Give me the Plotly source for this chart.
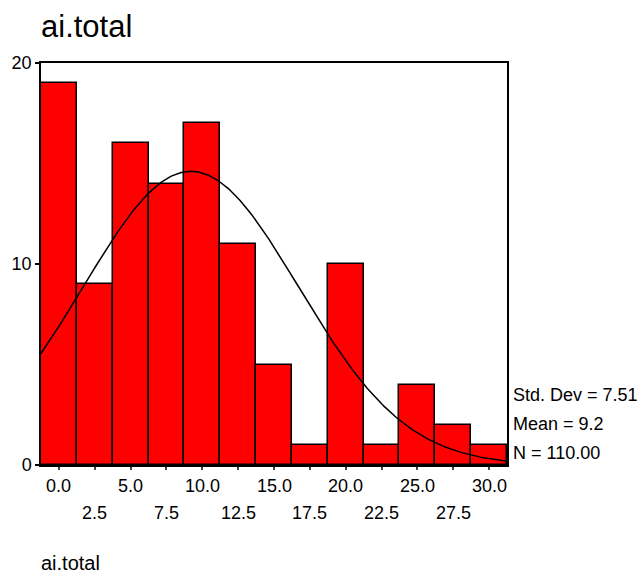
import numpy as np
import plotly.graph_objects as go

# Data
bin_centers = [0.0, 2.5, 5.0, 7.5, 10.0, 12.5, 15.0, 17.5, 20.0, 22.5, 25.0, 27.5, 30.0]
counts = [19, 9, 16, 14, 17, 11, 5, 1, 10, 1, 4, 2, 1]
tick_labels = ["0.0", "2.5", "5.0", "7.5", "10.0", "12.5", "15.0", "17.5", "20.0", "22.5", "25.0", "27.5", "30.0"]
bin_width = 2.5
mean_val = 9.2
std_val = 7.51
n_val = 110
stats_lines = ["Std. Dev = 7.51", "Mean = 9.2", "N = 110.00"]

FONT = "Liberation Sans, Arial, sans-serif"

fig = go.Figure()
fig.add_trace(go.Bar(
    x=bin_centers, y=counts, width=bin_width,
    marker=dict(color="#ff0000", line=dict(color="black", width=1.5)),
    hoverinfo="x+y", showlegend=False,
))

# fitted normal curve from the stated mean / sd / N
xmin = bin_centers[0] - bin_width / 2
xmax = bin_centers[-1] + bin_width / 2
xs = np.linspace(xmin, xmax, 300)
ys = n_val * bin_width / (std_val * np.sqrt(2 * np.pi)) * np.exp(-0.5 * ((xs - mean_val) / std_val) ** 2)
fig.add_trace(go.Scatter(x=xs, y=ys, mode="lines", line=dict(color="black", width=1.5),
                         hoverinfo="skip", showlegend=False))

annotations = []
# two-row x tick labels
for i, (c, t) in enumerate(zip(bin_centers, tick_labels)):
    annotations.append(dict(x=c, y=-0.052 if i % 2 == 0 else -0.119, xref="x", yref="paper",
                            text=t, showarrow=False, xanchor="center", yanchor="middle",
                            font=dict(family=FONT, size=18, color="black")))
# stats text
for txt, yy in zip(stats_lines, [0.174, 0.102, 0.030]):
    annotations.append(dict(x=1.009, y=yy, xref="paper", yref="paper", text=txt, showarrow=False,
                            xanchor="left", yanchor="middle",
                            font=dict(family=FONT, size=18, color="black")))
# title
annotations.append(dict(x=-0.004, y=1.0896, xref="paper", yref="paper", text="ai.total", showarrow=False,
                        xanchor="left", yanchor="middle", font=dict(family=FONT, size=31, color="black")))
# axis title at bottom
annotations.append(dict(x=-0.004, y=-0.245, xref="paper", yref="paper", text="ai.total", showarrow=False,
                        xanchor="left", yanchor="middle", font=dict(family=FONT, size=20, color="black")))

fig.update_layout(
    width=640, height=573,
    margin=dict(l=41, r=133, t=63, b=108, autoexpand=False),
    paper_bgcolor="white", plot_bgcolor="white",
    bargap=0,
    annotations=annotations,
    font=dict(family=FONT, size=18, color="black"),
    xaxis=dict(range=[xmin, xmax], tickvals=bin_centers, ticktext=[""] * len(bin_centers),
               ticks="outside", ticklen=3, tickcolor="#444", tickwidth=1.5,
               showline=True, linecolor="black", linewidth=1.5, mirror=True,
               showgrid=False, zeroline=False, automargin=False),
    yaxis=dict(range=[0, 20], tickvals=[0, 10, 20], ticktext=["0", "10", "20"],
               ticks="outside", ticklen=4, tickcolor="black", tickwidth=1.5,
               showline=True, linecolor="black", linewidth=1.5, mirror=True,
               showgrid=False, zeroline=False, tickfont=dict(size=18), automargin=False),
)

fig.write_html("out.html",
               config={"displayModeBar": False},
               post_script="document.body.style.margin='0';document.body.style.overflow='hidden';")
